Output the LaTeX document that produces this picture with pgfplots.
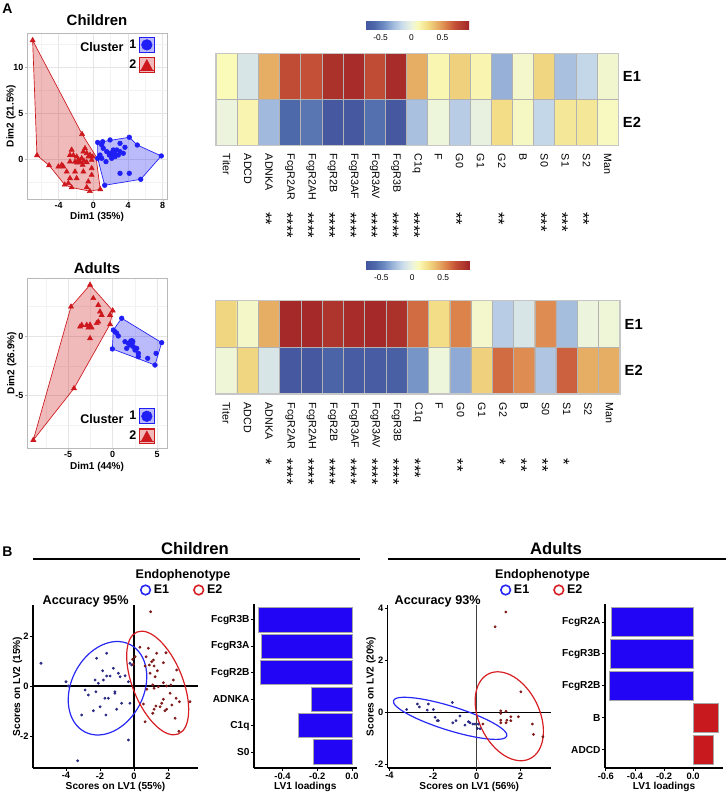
\documentclass[border=0pt]{standalone}
\usepackage{pgfplots}
\pgfplotsset{compat=1.18}
\usepackage{fontspec}
\setmainfont{Liberation Sans}
\definecolor{clBlue}{RGB}{30,30,245}
\definecolor{clRed}{RGB}{205,25,30}
\definecolor{barBlue}{RGB}{35,5,245}
\definecolor{barRed}{RGB}{200,25,30}
\definecolor{dotBlue}{RGB}{40,40,130}
\definecolor{dotRed}{RGB}{125,25,25}
\definecolor{ellBlue}{RGB}{40,40,245}
\definecolor{ellRed}{RGB}{215,30,35}
\pgfplotsset{
  /pgf/number format/assume math mode=true,
  colormap={hm}{rgb255(0pt)=(68,85,158); rgb255(15pt)=(78,105,170); rgb255(30pt)=(110,140,195);
    rgb255(45pt)=(160,185,220); rgb255(60pt)=(205,222,236); rgb255(75pt)=(236,244,222);
    rgb255(85pt)=(250,250,185); rgb255(100pt)=(243,222,135); rgb255(115pt)=(232,180,105);
    rgb255(130pt)=(220,130,75); rgb255(145pt)=(195,80,55); rgb255(168pt)=(160,35,38)},
  pcaaxis/.style={anchor=south west, scale only axis,
    grid=both, major grid style={gray!20,line width=0.5pt}, minor grid style={gray!10,line width=0.3pt},
    axis line style={gray!55}, tick style={gray!55}, tick align=outside, major tick length=1.5pt, minor tick length=0pt,
    xtick pos=bottom, ytick pos=left,
    tick label style={font=\bfseries\fontsize{6.7}{7}\selectfont, inner sep=1pt},
    label style={font=\bfseries\fontsize{7.5}{8}\selectfont},
    legend plot pos=right, legend cell align=right,
    legend style={draw=none, fill=none, font=\bfseries\fontsize{9.4}{10}\selectfont, row sep=3pt, inner sep=0pt}},
  heataxis/.style={anchor=south west, scale only axis, clip=false, axis on top,
    xmin=-0.5, xmax=18.5, ymin=-0.5, ymax=1.5,
    xtick={0,...,18}, xticklabels={Titer,ADCD,ADNKA,FcgR2AR,FcgR2AH,FcgR2B,FcgR3AF,FcgR3AV,FcgR3B,C1q,F,G0,G1,G2,B,S0,S1,S2,Man},
    ytick={0,1}, yticklabels={E2,E1}, yticklabel pos=right,
    major tick length=0pt, minor tick length=0pt,
    minor xtick={0.5,1.5,...,17.5}, minor ytick={0.5}, xminorgrids, yminorgrids,
    minor grid style={gray!60, line width=0.4pt},
    axis line style={gray!45, line width=0.8pt},
    xticklabel style={font=\fontsize{8}{9}\selectfont, yshift=-3pt, rotate=-90, anchor=west},
    yticklabel style={font=\bfseries\fontsize{11}{12}\selectfont},
    colormap name=hm, point meta min=-0.75, point meta max=0.93,
    colorbar horizontal},
  scoreaxis/.style={anchor=south west, scale only axis, clip=false, axis lines=left, axis line style={-, line width=0.8pt},
    tick align=outside, major tick length=2pt, tick style={black, line width=0.6pt},
    tick label style={font=\bfseries\fontsize{7}{8}\selectfont, inner sep=1.2pt},
    label style={font=\bfseries\fontsize{7.6}{8}\selectfont},
    legend columns=2,
    legend style={draw=none, fill=none, font=\bfseries\fontsize{9.4}{10}\selectfont, anchor=center,
      /tikz/every even column/.append style={column sep=16pt}}},
  loadaxis/.style={anchor=south west, scale only axis, axis lines=left, axis line style={-, line width=0.8pt},
    tick align=outside, major tick length=2pt, tick style={black, line width=0.6pt},
    tick label style={font=\bfseries\fontsize{7.6}{8}\selectfont, inner sep=1.2pt},
    xticklabel style={font=\bfseries\fontsize{7}{8}\selectfont},
    label style={font=\bfseries\fontsize{7.6}{8}\selectfont},
    xlabel style={at={(axis description cs:0.5,-0.117)}, anchor=center},
    xbar, bar width=0.92, bar shift=0pt},
}
\tikzset{starnode/.style={rotate=-90, anchor=mid west, inner sep=0pt, font=\fontsize{12.5}{12.5}\selectfont}}
\newcommand{\stars}[1]{\raisebox{-0.32em}{#1}}
\begin{document}
\begin{tikzpicture}
\useasboundingbox (0,0) rectangle (544.5pt,596.25pt);
% ---------------- Panel A labels
\node[font=\bfseries\fontsize{10.5}{11}\selectfont] at (5.5pt,589.5pt) {A};
\node[font=\bfseries\fontsize{11.2}{12}\selectfont] at (72.75pt,581.25pt) {Children};
\node[font=\bfseries\fontsize{11.2}{12}\selectfont] at (72.75pt,395.25pt) {Adults};

% ---------------- Children PCA
\begin{axis}[pcaaxis, at={(20.25pt,447pt)}, width=105pt, height=124.5pt,
  xmin=-7.65, xmax=8.5, ymin=-4.35, ymax=13.7,
  xtick={-4,0,4,8}, ytick={0,5,10}, minor xtick={-6,-2,2,6}, minor ytick={-2.5,2.5,7.5,12.5},
  xlabel={Dim1 (35\%)}, ylabel={Dim2 (21.5\%)},
  xlabel style={at={(axis description cs:0.5,-0.108)}, anchor=center},
  ylabel style={at={(axis description cs:-0.114,0.5)}, anchor=center},
  legend style={at={(0.914,0.978)}, anchor=north east}]
\addplot[forget plot, draw=clRed, fill=clRed, fill opacity=0.3, line width=0.5pt] coordinates {
 (-7.0,12.9) (-1.3,2.7) (0.3,0.3) (0.8,-3.3) (-0.4,-3.5) (-2.5,-3.1) (-3.3,-2.8) (-5.1,-0.7) (-6.5,0.4) (-7.0,12.9)};
\addplot[forget plot, draw=clBlue, fill=clBlue, fill opacity=0.3, line width=0.5pt] coordinates {
 (0.5,1.8) (4.15,2.36) (5.07,1.52) (7.84,0.33) (5.47,-2.21) (1.31,-2.86) (0.5,0.07) (0.5,1.8)};
\addplot[forget plot, only marks, mark=triangle*, mark size=2.2pt, color=clRed] coordinates {
 (-7.0,12.9) (-1.3,2.7) (0.8,-3.3) (-0.4,-3.5) (-2.5,-3.1) (-3.3,-2.8) (-5.1,-0.7) (-6.5,0.4)
 (-2.5,1.0) (-2.3,0.4) (-1.92,0.25) (-1.73,-0.11) (-1.53,-0.29) (-2.11,-0.29) (-1.34,0.07) (-1.15,0.8)
 (-0.96,1.16) (-0.76,0.62) (-0.58,0.25) (-0.38,0.43) (-0.19,-0.11) (-0.07,0.25) (-0.76,-0.36) (-1.07,-0.22)
 (-1.23,-0.65) (-2.69,-0.29) (-3.65,-0.65) (-4.03,-0.83) (-3.46,-0.83) (-3.07,-1.38) (-2.11,-1.38) (-1.15,-1.38)
 (-0.19,-1.01) (-2.69,-2.1) (-1.92,-2.1) (-0.58,-2.46) (-2.88,-2.64) (-0.76,-3.08) (-0.19,-1.74) (-2.69,0.43)};
\addplot[forget plot, only marks, mark=*, mark size=1.75pt, color=clBlue] coordinates {
 (0.5,1.8) (4.15,2.36) (5.07,1.52) (7.84,0.33) (5.47,-2.21) (1.31,-2.86) (0.5,0.07)
 (1.08,1.88) (1.93,2.07) (1.15,1.16) (1.55,0.8) (1.93,0.62) (2.31,0.98) (2.7,0.98) (3.08,0.8) (3.46,0.62)
 (2.5,0.25) (2.12,0.07) (0.97,0.07) (1.46,-0.29) (3.08,-1.56) (4.15,-1.56) (3.65,1.27) (1.85,0.43)
 (2.89,0.43) (0.77,0.43) (3.08,1.7) (0.97,1.52)};
\addplot[forget plot, only marks, mark=triangle*, mark size=3.6pt, color=clRed] coordinates {(-1.7,-0.3)};
\addplot[forget plot, only marks, mark=*, mark size=2.6pt, color=clBlue] coordinates {(2.31,0.62)};
\addlegendimage{legend image code/.code={
  \draw[draw=clBlue, fill=clBlue!30, line width=0.8pt] (0pt,-5.5pt) rectangle (11pt,5.5pt);
  \fill[clBlue] (5.5pt,0pt) circle (4pt);}}
\addlegendentry{1}
\addlegendimage{legend image code/.code={
  \draw[draw=clRed, fill=clRed!30, line width=0.8pt] (0pt,-5.5pt) rectangle (11pt,5.5pt);
  \draw[clRed, line width=0.6pt] (0pt,-3.8pt) -- (11pt,-3.8pt);
  \fill[clRed] (1.3pt,-3.8pt) -- (9.7pt,-3.8pt) -- (5.5pt,4pt) -- cycle;}}
\addlegendentry{2}
\end{axis}

% ---------------- Adults PCA
\begin{axis}[pcaaxis, at={(20.25pt,260.25pt)}, width=105pt, height=127.5pt,
  xmin=-9.63, xmax=6.1, ymin=-9.41, ymax=4.87,
  xtick={-5,0,5}, ytick={-5,0}, minor xtick={-7.5,-2.5,2.5}, minor ytick={-7.5,-2.5,2.5},
  xlabel={Dim1 (44\%)}, ylabel={Dim2 (26.9\%)},
  xlabel style={at={(axis description cs:0.5,-0.112)}, anchor=center},
  ylabel style={at={(axis description cs:-0.109,0.5)}, anchor=center},
  legend style={at={(0.914,0.235)}, anchor=north east}]
\addplot[forget plot, draw=clRed, fill=clRed, fill opacity=0.3, line width=0.5pt] coordinates {
 (-2.55,4.29) (0,2.13) (-0.3,0.98) (-4.35,-4.4) (-8.92,-8.74) (-4.69,2.46) (-2.55,4.29)};
\addplot[forget plot, draw=clBlue, fill=clBlue, fill opacity=0.3, line width=0.5pt] coordinates {
 (1.01,1.49) (5.5,-0.56) (4.75,-2.44) (-0.04,-1.09) (0.07,0.5) (1.01,1.49)};
\addplot[forget plot, only marks, mark=triangle*, mark size=2.2pt, color=clRed] coordinates {
 (-2.55,4.29) (0,2.13) (-0.3,0.98) (-4.35,-4.4) (-8.92,-8.74) (-4.69,2.46)
 (-2.18,3.17) (-1.62,2.6) (-1.43,2.04) (-1.24,1.76) (-1.62,1.2) (-1.8,1.07) (-3.48,0.92) (-3.67,0.78)
 (-2.92,0.92) (-2.55,-0.2) (-0.3,1.76)};
\addplot[forget plot, only marks, mark=*, mark size=1.75pt, color=clBlue] coordinates {
 (1.01,1.49) (5.5,-0.56) (4.75,-2.44) (-0.04,-1.09) (0.07,0.5)
 (0.45,0.23) (0.63,0) (1.38,-0.48) (1.75,-0.61) (1.94,-0.76) (2.31,-0.9) (2.5,-1.18) (2.88,-1.46)
 (2.88,-1.74) (3.93,-1.88) (4.87,-1.46) (1.57,-1.04) (2.7,-1.04) (0.26,0.36)};
\addplot[forget plot, only marks, mark=triangle*, mark size=3.6pt, color=clRed] coordinates {(-2.55,0.78)};
\addplot[forget plot, only marks, mark=*, mark size=2.6pt, color=clBlue] coordinates {(2.13,-0.48)};
\addlegendimage{legend image code/.code={
  \draw[draw=clBlue, fill=clBlue!30, line width=0.8pt] (0pt,-5.5pt) rectangle (11pt,5.5pt);
  \fill[clBlue] (5.5pt,0pt) circle (4pt);}}
\addlegendentry{1}
\addlegendimage{legend image code/.code={
  \draw[draw=clRed, fill=clRed!30, line width=0.8pt] (0pt,-5.5pt) rectangle (11pt,5.5pt);
  \draw[clRed, line width=0.6pt] (0pt,-3.8pt) -- (11pt,-3.8pt);
  \fill[clRed] (1.3pt,-3.8pt) -- (9.7pt,-3.8pt) -- (5.5pt,4pt) -- cycle;}}
\addlegendentry{2}
\end{axis}
\node[font=\bfseries\fontsize{9.4}{10}\selectfont] at (76.5pt,561.2pt) {Cluster};
\node[font=\bfseries\fontsize{9.4}{10}\selectfont] at (76.5pt,281.8pt) {Cluster};

% ---------------- Children heatmap
\begin{axis}[heataxis, at={(162pt,487.3pt)}, width=301.7pt, height=68.5pt,
  colorbar style={at={(0.5,1.263)}, anchor=south, width=78pt, height=6pt, scale only axis,
    xtick={-0.5,0,0.5}, xticklabels={-0.5,0,0.5}, major tick length=0pt, axis line style={draw=none},
    xticklabel style={font=\fontsize{6.3}{7}\selectfont}}]
\addplot[matrix plot*, mesh/cols=19, point meta=explicit] table[meta=c] {
x y c
0 0 0.0
1 0 0.13
2 0 -0.3
3 0 -0.6
4 0 -0.55
5 0 -0.72
6 0 -0.72
7 0 -0.57
8 0 -0.72
9 0 -0.27
10 0 0.01
11 0 -0.22
12 0 -0.02
13 0 0.25
14 0 0.07
15 0 -0.18
16 0 0.2
17 0 0.2
18 0 0.08
0 1 0.1
1 1 -0.1
2 1 0.42
3 1 0.72
4 1 0.7
5 1 0.86
6 1 0.88
7 1 0.72
8 1 0.88
9 1 0.42
10 1 0.12
11 1 0.3
12 1 0.13
13 1 -0.33
14 1 0.05
15 1 0.28
16 1 -0.27
17 1 -0.18
18 1 0.04
};
\node[starnode] at (axis cs:2,-1.96) {\stars{**}};
\node[starnode] at (axis cs:3,-1.96) {\stars{****}};
\node[starnode] at (axis cs:4,-1.96) {\stars{****}};
\node[starnode] at (axis cs:5,-1.96) {\stars{****}};
\node[starnode] at (axis cs:6,-1.96) {\stars{****}};
\node[starnode] at (axis cs:7,-1.96) {\stars{****}};
\node[starnode] at (axis cs:8,-1.96) {\stars{****}};
\node[starnode] at (axis cs:9,-1.96) {\stars{****}};
\node[starnode] at (axis cs:11,-1.96) {\stars{**}};
\node[starnode] at (axis cs:13,-1.96) {\stars{**}};
\node[starnode] at (axis cs:15,-1.96) {\stars{***}};
\node[starnode] at (axis cs:16,-1.96) {\stars{***}};
\node[starnode] at (axis cs:17,-1.96) {\stars{**}};
\end{axis}

% ---------------- Adults heatmap
\begin{axis}[heataxis, at={(161.8pt,300.75pt)}, width=303.2pt, height=70pt,
  colorbar style={at={(0.5,1.329)}, anchor=south, width=78pt, height=6pt, scale only axis,
    xtick={-0.5,0,0.5}, xticklabels={-0.5,0,0.5}, major tick length=0pt, axis line style={draw=none},
    xticklabel style={font=\fontsize{6.3}{7}\selectfont}}]
\addplot[matrix plot*, mesh/cols=19, point meta=explicit] table[meta=c] {
x y c
0 0 0.02
1 0 0.28
2 0 -0.1
3 0 -0.72
4 0 -0.72
5 0 -0.64
6 0 -0.7
7 0 -0.7
8 0 -0.67
9 0 -0.42
10 0 0.01
11 0 -0.35
12 0 0.3
13 0 0.62
14 0 0.52
15 0 -0.25
16 0 0.65
17 0 0.42
18 0 0.42
0 1 0.28
1 1 0.06
2 1 0.42
3 1 0.9
4 1 0.9
5 1 0.84
6 1 0.88
7 1 0.9
8 1 0.86
9 1 0.62
10 1 0.25
11 1 0.55
12 1 0.05
13 1 -0.22
14 1 -0.1
15 1 0.52
16 1 -0.28
17 1 0.0
18 1 0.02
};
\node[starnode] at (axis cs:2,-1.88) {\stars{*}};
\node[starnode] at (axis cs:3,-1.88) {\stars{****}};
\node[starnode] at (axis cs:4,-1.88) {\stars{****}};
\node[starnode] at (axis cs:5,-1.88) {\stars{****}};
\node[starnode] at (axis cs:6,-1.88) {\stars{****}};
\node[starnode] at (axis cs:7,-1.88) {\stars{****}};
\node[starnode] at (axis cs:8,-1.88) {\stars{****}};
\node[starnode] at (axis cs:9,-1.88) {\stars{***}};
\node[starnode] at (axis cs:11,-1.88) {\stars{**}};
\node[starnode] at (axis cs:13,-1.88) {\stars{*}};
\node[starnode] at (axis cs:14,-1.88) {\stars{**}};
\node[starnode] at (axis cs:15,-1.88) {\stars{**}};
\node[starnode] at (axis cs:16,-1.88) {\stars{*}};
\end{axis}

% ---------------- Panel B headers
\node[font=\bfseries\fontsize{10.5}{11}\selectfont] at (5.5pt,182.25pt) {B};
\node[font=\bfseries\fontsize{12.5}{13}\selectfont] at (146.25pt,184.5pt) {Children};
\node[font=\bfseries\fontsize{12.5}{13}\selectfont] at (417pt,184.5pt) {Adults};
\draw[line width=1.3pt] (24.75pt,177pt) -- (270pt,177pt);
\draw[line width=1.3pt] (291pt,177pt) -- (544.5pt,177pt);
\node[font=\bfseries\fontsize{9.4}{10}\selectfont] at (137.25pt,165pt) {Endophenotype};
\node[font=\bfseries\fontsize{9.4}{10}\selectfont] at (406.9pt,165pt) {Endophenotype};

% ---------------- Children score plot
\begin{axis}[scoreaxis, at={(24.75pt,20.25pt)}, width=123.75pt, height=122.25pt,
  xmin=-5.94, xmax=3.76, ymin=-3.28, ymax=3.24, xtick={-4,-2,0,2}, ytick={-2,0,2},
  xlabel={Scores on LV1 (55\%)}, ylabel={Scores on LV2 (15\%)},
  xlabel style={at={(axis description cs:0.5,-0.117)}, anchor=center},
  ylabel style={at={(axis description cs:-0.094,0.5)}, anchor=center},
  legend style={at={(0.906,1.092)}}]
\addplot[forget plot, black, line width=0.8pt] coordinates {(0,-3.28) (0,3.24)};
\addplot[forget plot, black, line width=0.8pt] coordinates {(-5.94,0) (3.76,0)};
\addplot[forget plot, only marks, mark=*, mark size=0.85pt, color=dotBlue] coordinates {
 (-5.47,0.91) (-4.0,0.17) (-3.86,0) (-3.31,-2.99) (-3.08,-1.16) (-2.69,-0.36) (-2.39,-0.99) (-2.29,0.24)
 (-2.2,1.11) (-2.1,0.11) (-1.84,0.61) (-1.8,0.24) (-1.61,1.31) (-1.61,0.4) (-1.51,-0.49) (-1.71,-0.49)
 (-1.41,0.4) (-1.22,0.71) (-1.12,-0.23) (-0.92,0.51) (-0.82,0.37) (-0.53,0.41) (-0.33,0.17) (-0.24,-0.69)
 (-1.02,-0.93) (-1.12,-0.29) (-0.73,-0.69) (-2.0,-0.83) (-2.24,-0.23) (-1.65,-1.16) (-0.33,-2.16)
 (-0.24,0.91) (-0.14,0.84) (-2.88,-0.16)};
\addplot[forget plot, only marks, mark=*, mark size=0.85pt, color=dotRed] coordinates {
 (0.98,2.97) (0.35,1.55) (0.84,1.51) (0.71,1.17) (0.65,0.8) (0.9,0.84) (1.04,0.97) (1.14,1.04) (1.18,0.8)
 (1.33,1.31) (1.88,1.33) (1.73,0.93) (1.37,0.61) (0.94,0.51) (1.24,0.37) (1.1,0.04) (1.18,-0.09) (1.43,-0.03)
 (1.73,0.13) (1.92,0) (2.16,0.04) (2.31,0.24) (2.51,0.64) (2.12,-0.29) (2.47,-0.49) (2.67,-0.63) (3.29,-0.63)
 (2.22,-0.76) (1.73,-0.53) (1.53,-0.83) (1.29,-0.8) (1.18,-0.93) (1.92,-0.93) (1.82,-0.99) (1.63,-0.69)
 (1.1,-1.09) (0.65,-1.43) (2.41,-1.29) (2.63,-1.81) (0.06,1.17) (-0.08,1.07) (-0.04,0.87) (0.55,-0.72) (0.75,-0.13)};
\draw[ellBlue, line width=0.9pt, rotate around={-27.4:(axis cs:-1.56,-0.09)}] (axis cs:-1.56,-0.09) ellipse [x radius=27.1pt, y radius=36.9pt];
\draw[ellRed, line width=0.9pt, rotate around={22:(axis cs:1.39,0.12)}] (axis cs:1.39,0.12) ellipse [x radius=18.75pt, y radius=41.25pt];
\node[anchor=west, font=\bfseries\fontsize{9.5}{10}\selectfont] at (rel axis cs:0.03,1.02) {Accuracy 95\%};
\addlegendimage{legend image code/.code={\draw[ellBlue, line width=1.2pt, fill=white] (0pt,0pt) circle (3.6pt);}}
\addlegendentry{E1}
\addlegendimage{legend image code/.code={\draw[ellRed, line width=1.2pt, fill=white] (0pt,0pt) circle (3.6pt);}}
\addlegendentry{E2}
\end{axis}

% ---------------- Children loadings
\begin{axis}[loadaxis, at={(190.5pt,20.25pt)}, width=77pt, height=123pt,
  xmin=-0.564, xmax=0.027, ymin=0.4, ymax=6.6,
  ytick={1,...,6}, yticklabels={S0,C1q,ADNKA,FcgR2B,FcgR3A,FcgR3B},
  xtick={-0.4,-0.2,0}, xticklabels={-0.4,-0.2,0.0}, xlabel={LV1 loadings}]
\addplot[fill=barBlue, draw=gray!70, line width=0.7pt] coordinates {
 (-0.219,1) (-0.309,2) (-0.233,3) (-0.528,4) (-0.52,5) (-0.537,6)};
\end{axis}

% ---------------- Adults score plot
\begin{axis}[scoreaxis, at={(290.8pt,20.25pt)}, width=122.25pt, height=122.25pt,
  xmin=-4.08, xmax=3.39, ymin=-2.15, ymax=4.12, xtick={-4,-2,0,2}, ytick={-2,0,2,4},
  xlabel={Scores on LV1 (56\%)}, ylabel={Scores on LV2 (20\%)},
  xlabel style={at={(axis description cs:0.5,-0.117)}, anchor=center},
  ylabel style={at={(axis description cs:-0.102,0.5)}, anchor=center},
  legend style={at={(0.95,1.092)}}]
\addplot[forget plot, black!75, line width=0.8pt] coordinates {(0,-2.15) (0,4.12)};
\addplot[forget plot, black, line width=0.8pt] coordinates {(-4.08,0) (3.39,0)};
\addplot[forget plot, only marks, mark=*, mark size=0.85pt, color=dotBlue] coordinates {
 (-3.21,0.1) (-2.72,0.31) (-2.63,0.2) (-2.22,0.31) (-2.27,0.08) (-1.99,0.1) (-1.91,-0.2) (-1.81,-0.33)
 (-1.76,-0.33) (-1.12,0.37) (-1.1,-0.41) (-0.95,-0.33) (-0.77,-0.15) (-0.54,-0.5) (-0.38,-0.37)
 (-0.31,-0.41) (-0.18,-0.46) (-0.08,-0.46) (0.03,-0.63) (0.15,-0.64) (0.07,-0.46)};
\addplot[forget plot, only marks, mark=*, mark size=0.85pt, color=dotRed] coordinates {
 (0.84,3.28) (1.33,3.85) (2.02,0.78) (1.1,0.05) (1.1,-0.05) (1.34,0.03) (1.1,-0.31) (1.1,-0.41)
 (1.38,-0.31) (1.34,-0.41) (1.56,-0.18) (1.56,-0.33) (1.91,-0.18) (2.55,-0.46) (2.6,-0.86) (3.03,-0.95) (0.28,-0.46)};
\draw[ellBlue, line width=0.9pt, rotate around={-17.3:(axis cs:-1.22,-0.24)}] (axis cs:-1.22,-0.24) ellipse [x radius=44.55pt, y radius=9pt];
\draw[ellRed, line width=0.9pt, rotate around={25.9:(axis cs:1.49,-0.16)}] (axis cs:1.49,-0.16) ellipse [x radius=22.7pt, y radius=35.4pt];
\node[anchor=west, font=\bfseries\fontsize{9.5}{10}\selectfont] at (rel axis cs:0.014,1.02) {Accuracy 93\%};
\addlegendimage{legend image code/.code={\draw[ellBlue, line width=1.2pt, fill=white] (0pt,0pt) circle (3.6pt);}}
\addlegendentry{E1}
\addlegendimage{legend image code/.code={\draw[ellRed, line width=1.2pt, fill=white] (0pt,0pt) circle (3.6pt);}}
\addlegendentry{E2}
\end{axis}

% ---------------- Adults loadings
\begin{axis}[loadaxis, at={(453.75pt,20.25pt)}, width=88.5pt, height=123pt,
  xmin=-0.606, xmax=0.205, ymin=0.43, ymax=5.56,
  ytick={1,...,5}, yticklabels={ADCD,B,FcgR2B,FcgR3B,FcgR2A},
  xtick={-0.6,-0.4,-0.2,0}, xticklabels={-0.6,-0.4,-0.2,0.0}, xlabel={LV1 loadings}]
\addplot[fill=barBlue, draw=gray!70, line width=0.7pt] coordinates {(-0.576,3) (-0.567,4) (-0.56,5)};
\addplot[fill=barRed, draw=gray!70, line width=0.7pt] coordinates {(0.137,1) (0.172,2)};
\end{axis}
\end{tikzpicture}
\end{document}
